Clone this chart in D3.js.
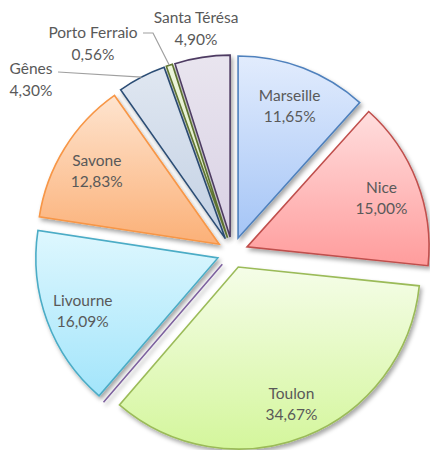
<!DOCTYPE html>
<html>
<head>
<meta charset="utf-8">
<script src="https://cdn.jsdelivr.net/npm/d3@7"></script>
<style>
  body { margin: 0; background: #fff; }
  text { font-family: Lato, "Open Sans", sans-serif; fill: #595959; }
</style>
</head>
<body>
<script>
// data
var ports = ["Marseille", "Nice", "Toulon", "", "Livourne", "Savone", "Gênes", "Porto Ferraio", "Santa Térésa"]
var shares = [11.65, 15.00, 34.67, 0, 16.09, 12.83, 4.30, 0.56, 4.90]

// styles
var topColors = ["#e2ecfd", "#ffdede", "#f5fde8", "#e6e0ee", "#def7fe", "#fee4cf", "#e0e7f1", "#edf5de", "#e9e5ef"]
var bottomColors = ["#a5c5f6", "#ff9c9c", "#d4f69c", "#c9bddb", "#a3e5fb", "#fbb077", "#c3d1e4", "#dcebbf", "#d9d1e4"]
var strokeColors = ["#4f81bd", "#c0504d", "#9bbb59", "#8064a2", "#4bacc6", "#f79646", "#2c4d75", "#5f7530", "#4d3b62"]

var W = 430, H = 450
var cx = 232.5, cy = 252.5, r = 182, explode = 15.6
var fontSize = "15.5px"

var svg = d3.select("body")
  .append("svg")
  .attr("width", W)
  .attr("height", H)

var defs = svg.append("defs")

var shadow = defs.append("filter")
  .attr("id", "shadow")
  .attr("x", "-20%").attr("y", "-20%")
  .attr("width", "140%").attr("height", "140%")
shadow.append("feDropShadow")
  .attr("dx", 2).attr("dy", 3)
  .attr("stdDeviation", 2.2)
  .attr("flood-color", "#000")
  .attr("flood-opacity", 0.35)

ports.forEach(function(p, i) {
  var g = defs.append("linearGradient")
    .attr("id", "grad" + i)
    .attr("x1", 0).attr("y1", 0)
    .attr("x2", 0).attr("y2", 1)
  g.append("stop").attr("offset", "0%").attr("stop-color", topColors[i])
  g.append("stop").attr("offset", "100%").attr("stop-color", bottomColors[i])
})

var pie = d3.pie().sort(null).value(function(d) { return d })
var arcs = pie(shares)

var arc = d3.arc().innerRadius(0).outerRadius(r)
var edgeArc = d3.arc().innerRadius(r).outerRadius(r)
var labelArc = d3.arc().innerRadius(144).outerRadius(144)

function shift(d) {
  var a = (d.startAngle + d.endAngle) / 2
  return [Math.sin(a) * explode, -Math.cos(a) * explode]
}

var chart = svg.append("g")
  .attr("transform", "translate(" + cx + "," + cy + ")")

chart.selectAll("path.slice")
  .data(arcs).enter()
  .append("path")
  .attr("class", "slice")
  .attr("d", arc)
  .attr("transform", function(d) {
    var s = shift(d)
    return "translate(" + s[0] + "," + s[1] + ")"
  })
  .attr("fill", function(d, i) { return "url(#grad" + i + ")" })
  .attr("stroke", function(d, i) { return strokeColors[i] })
  .attr("stroke-width", 1.6)
  .attr("stroke-linejoin", "miter")
  .attr("filter", "url(#shadow)")

function fmt(v) { return v.toFixed(2).replace(".", ",") + "%" }

// labels inside the bigger slices
var inside = arcs.filter(function(d) { return d.value >= 10 })
var inLabels = chart.selectAll("g.inlabel")
  .data(inside).enter()
  .append("g")
  .attr("transform", function(d) {
    var c = labelArc.centroid(d), s = shift(d)
    return "translate(" + (c[0] + s[0]) + "," + (c[1] + s[1]) + ")"
  })
inLabels.append("text")
  .attr("text-anchor", "middle")
  .attr("y", -2)
  .attr("font-size", fontSize)
  .text(function(d) { return ports[d.index] })
inLabels.append("text")
  .attr("text-anchor", "middle")
  .attr("y", 19)
  .attr("font-size", fontSize)
  .text(function(d) { return fmt(d.value) })

// outside labels for the small slices, with leader lines
var outPos = {
  "Gênes": { x: 31, y: 68, line: [[58, 72]] },
  "Porto Ferraio": { x: 93, y: 32, line: [[143, 33], [153, 33]] },
  "Santa Térésa": { x: 196, y: 17, line: null }
}

var outside = arcs.filter(function(d) { return d.value > 0 && d.value < 10 })
outside.forEach(function(d) {
  var name = ports[d.index], o = outPos[name]
  if (o.line) {
    var e = edgeArc.centroid(d), s = shift(d)
    var pts = o.line.concat([[cx + e[0] + s[0], cy + e[1] + s[1]]])
    svg.append("path")
      .attr("d", d3.line()(pts))
      .attr("fill", "none")
      .attr("stroke", "#a0a0a0")
      .attr("stroke-width", 1.2)
  }
  svg.append("text")
    .attr("x", o.x).attr("y", o.y + 5.5)
    .attr("text-anchor", "middle")
    .attr("font-size", fontSize)
    .text(name)
  svg.append("text")
    .attr("x", o.x).attr("y", o.y + 27.5)
    .attr("text-anchor", "middle")
    .attr("font-size", fontSize)
    .text(fmt(d.value))
})
</script>
</body>
</html>
